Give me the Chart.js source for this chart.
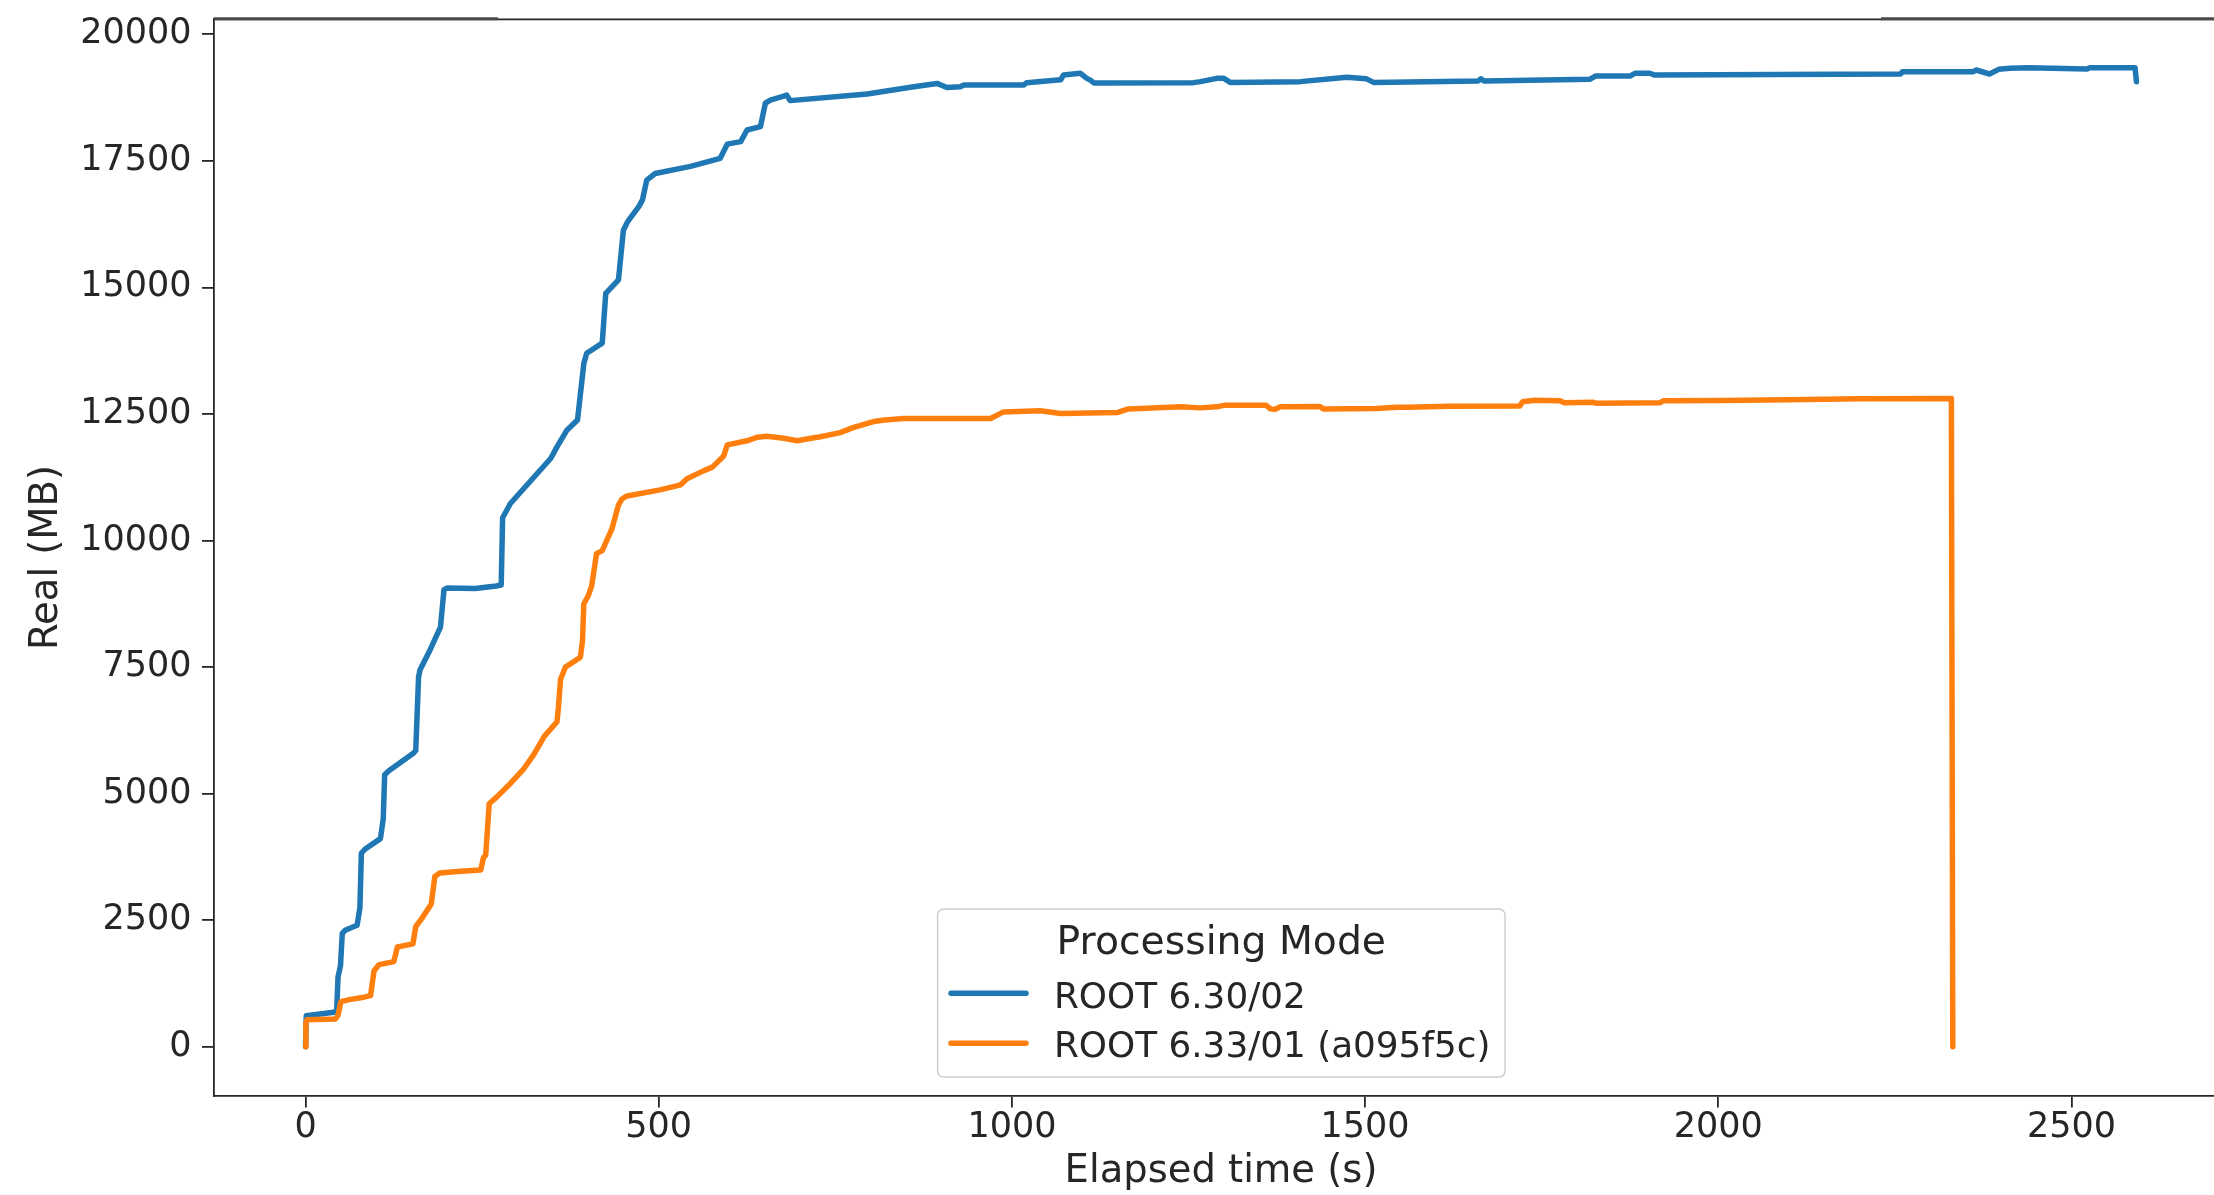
<!DOCTYPE html>
<html>
<head>
<meta charset="utf-8">
<script src="https://cdn.jsdelivr.net/npm/chart.js@4.4.1/dist/chart.umd.min.js"></script>
<style>
  html, body { margin: 0; padding: 0; background: #ffffff; overflow: hidden; }
  #wrap { width: 2240px; height: 1195px; }
</style>
</head>
<body>
<div id="wrap"><canvas id="c" width="2240" height="1195"></canvas></div>
<script>
// ---------------- data ----------------
const seriesLabels = ['ROOT 6.30/02', 'ROOT 6.33/01 (a095f5c)'];
const legendTitle = 'Processing Mode';
const xTitle = 'Elapsed time (s)';
const yTitle = 'Real (MB)';
const xTicks = [0, 500, 1000, 1500, 2000, 2500];
const yTicks = [0, 2500, 5000, 7500, 10000, 12500, 15000, 17500, 20000];

// ROOT 6.30/02 (blue)
const blueTime = [0, 1, 40, 44, 46, 49.5, 52, 56, 73, 77, 79, 84, 106, 110, 112, 118, 153, 156, 160, 162, 175, 191, 196, 200, 240, 270, 277, 279, 290, 347, 356, 370, 385, 394, 398, 420, 425, 443, 450, 456, 472, 477, 483, 495, 545, 587, 597, 616, 625, 644, 651, 658, 677, 681, 686, 795, 861, 894, 908, 927, 932, 1017, 1021, 1069, 1073, 1097, 1106, 1111, 1116, 1257, 1267, 1290, 1300, 1309, 1408, 1474, 1502, 1512, 1660, 1664, 1668, 1818, 1826, 1875, 1882, 1903, 1910, 2258, 2261, 2361, 2365, 2384, 2397, 2413, 2439, 2522, 2526, 2590, 2592];
const blueMem  = [0, 610, 680, 700, 1380, 1600, 2240, 2300, 2400, 2750, 3820, 3900, 4110, 4500, 5370, 5450, 5800, 5850, 7300, 7440, 7800, 8290, 9030, 9060, 9050, 9100, 9120, 10450, 10730, 11620, 11850, 12180, 12380, 13500, 13700, 13900, 14880, 15150, 16130, 16300, 16600, 16730, 17120, 17250, 17390, 17550, 17830, 17880, 18110, 18175, 18640, 18700, 18780, 18800, 18690, 18820, 18965, 19030, 18950, 18965, 19000, 19000, 19045, 19100, 19195, 19230, 19130, 19095, 19040, 19045, 19065, 19130, 19130, 19050, 19065, 19150, 19120, 19050, 19080, 19120, 19080, 19110, 19175, 19175, 19230, 19230, 19195, 19215, 19262, 19262, 19295, 19216, 19308, 19328, 19341, 19314, 19341, 19341, 19064];

// ROOT 6.33/01 (a095f5c) (orange)
const orangeTime = [0, 0.5, 2, 42, 46, 50, 62, 80, 92, 97, 104, 125, 130, 152, 156, 166, 178, 183, 190, 215, 248, 252, 255, 260, 272, 290, 309, 323, 338, 356, 358, 361, 368, 389, 392, 394, 400, 405, 412, 420, 434, 443, 448, 455, 502, 531, 540, 564, 576, 592, 597, 625, 640, 653, 677, 696, 720, 729, 757, 775, 804, 820, 847, 970, 988, 1040, 1069, 1150, 1165, 1240, 1266, 1290, 1300, 1360, 1366, 1372, 1380, 1436, 1441, 1516, 1545, 1560, 1620, 1719, 1723, 1740, 1776, 1782, 1823, 1828, 1917, 1922, 2002, 2100, 2200, 2330, 2332];
const orangeMem  = [0, 460, 530, 545, 620, 890, 930, 970, 1010, 1500, 1620, 1680, 1970, 2030, 2370, 2560, 2820, 3360, 3430, 3460, 3490, 3740, 3780, 4800, 4950, 5200, 5490, 5770, 6130, 6420, 6700, 7260, 7500, 7690, 8000, 8750, 8900, 9100, 9740, 9800, 10240, 10700, 10820, 10880, 11000, 11100, 11220, 11380, 11450, 11670, 11890, 11970, 12040, 12060, 12020, 11970, 12030, 12050, 12130, 12230, 12350, 12380, 12410, 12410, 12540, 12565, 12510, 12530, 12600, 12640, 12620, 12640, 12670, 12670, 12600, 12590, 12640, 12645, 12600, 12610, 12630, 12630, 12650, 12655, 12740, 12770, 12760, 12720, 12730, 12710, 12720, 12760, 12765, 12780, 12800, 12805, 0];

// ---------------- styling ----------------
const FONT = 'DejaVu Sans';
const INK = '#262626';
const BLUE = '#1f77b4';
const ORANGE = '#ff7f0e';
const LINE_W = 5.5;

function toPoints(ts, vs) { return ts.map((t, i) => ({ x: t, y: vs[i] })); }

const topSpine = {
  id: 'topSpine',
  afterDraw(chart) {
    const { ctx, chartArea } = chart;
    const y = chartArea.top;
    ctx.save();
    ctx.strokeStyle = INK;
    ctx.lineWidth = 1.8;
    ctx.beginPath();
    ctx.moveTo(chartArea.left, y);
    ctx.lineTo(chart.width, y);
    ctx.stroke();
    ctx.strokeStyle = '#4a4a4a';
    ctx.lineWidth = 3;
    ctx.beginPath();
    ctx.moveTo(chartArea.left, y - 0.6);
    ctx.lineTo(498, y - 0.6);
    ctx.moveTo(1881, y - 0.6);
    ctx.lineTo(chart.width, y - 0.6);
    ctx.stroke();
    ctx.restore();
  }
};

const boxLegend = {
  id: 'boxLegend',
  afterDraw(chart) {
    const { ctx } = chart;
    const bx = 937.6, by = 909, bw = 567.4, bh = 168;
    ctx.save();
    ctx.beginPath();
    ctx.roundRect(bx, by, bw, bh, 6);
    ctx.fillStyle = 'rgba(255,255,255,0.8)';
    ctx.fill();
    ctx.lineWidth = 1.4;
    ctx.strokeStyle = '#cccccc';
    ctx.stroke();

    ctx.fillStyle = INK;
    ctx.textBaseline = 'alphabetic';
    ctx.textAlign = 'center';
    ctx.font = '39.3px "' + FONT + '"';
    ctx.fillText(legendTitle, bx + bw / 2, 954);

    ctx.textAlign = 'left';
    ctx.font = '35.8px "' + FONT + '"';
    const rowsLine = [993.3, 1043.3];
    const rowsText = [1007.7, 1056.7];
    chart.data.datasets.forEach((ds, i) => {
      ctx.strokeStyle = ds.borderColor;
      ctx.lineWidth = LINE_W;
      ctx.lineCap = 'round';
      ctx.beginPath();
      ctx.moveTo(951, rowsLine[i]);
      ctx.lineTo(1026, rowsLine[i]);
      ctx.stroke();
      ctx.fillStyle = INK;
      ctx.fillText(ds.label, 1054, rowsText[i]);
    });
    ctx.restore();
  }
};

const axisGrid = { drawOnChartArea: false, drawTicks: true, tickLength: 12, color: INK, lineWidth: 1.8 };
const axisBorder = { display: true, color: INK, width: 1.8 };
const plainLabel = v => String(v);
function noScalePadding(s) { s.paddingTop = 0; s.paddingBottom = 0; s.paddingLeft = 0; s.paddingRight = 0; }

new Chart(document.getElementById('c'), {
  type: 'line',
  data: {
    datasets: [
      { label: seriesLabels[0], data: toPoints(blueTime, blueMem), borderColor: BLUE, backgroundColor: BLUE, borderWidth: LINE_W, pointRadius: 0, tension: 0, borderJoinStyle: 'round', borderCapStyle: 'round', order: 1 },
      { label: seriesLabels[1], data: toPoints(orangeTime, orangeMem), borderColor: ORANGE, backgroundColor: ORANGE, borderWidth: LINE_W, pointRadius: 0, tension: 0, borderJoinStyle: 'round', borderCapStyle: 'round', order: 0 }
    ]
  },
  options: {
    responsive: false,
    animation: false,
    devicePixelRatio: 1,
    layout: { padding: { left: 0, right: 12, top: 19.3, bottom: 0 } },
    plugins: { legend: { display: false }, tooltip: { enabled: false } },
    scales: {
      x: {
        type: 'linear',
        min: -129.6,
        max: 2721.6,
        afterBuildTicks: s => { s.ticks = xTicks.map(v => ({ value: v })); },
        afterFit: s => { s.height = 99.4; noScalePadding(s); },
        grid: axisGrid,
        border: axisBorder,
        ticks: { callback: plainLabel, font: { family: FONT, size: 35, lineHeight: 1 }, color: INK, padding: 3, maxRotation: 0, autoSkip: false },
        title: { display: true, text: xTitle, color: INK, font: { family: FONT, size: 38.5, lineHeight: 1 }, padding: { top: 0, bottom: 3.5 } }
      },
      y: {
        type: 'linear',
        min: -966.5,
        max: 20296.5,
        afterBuildTicks: s => { s.ticks = yTicks.map(v => ({ value: v })); },
        afterFit: s => { s.width = 214; noScalePadding(s); },
        grid: axisGrid,
        border: axisBorder,
        ticks: { callback: plainLabel, font: { family: FONT, size: 35, lineHeight: 1 }, color: INK, padding: 10.5, autoSkip: false },
        title: { display: true, text: yTitle, color: INK, font: { family: FONT, size: 38.5, lineHeight: 1 }, padding: { top: 27.5, bottom: 0 } }
      }
    }
  },
  plugins: [topSpine, boxLegend]
});
</script>
</body>
</html>
